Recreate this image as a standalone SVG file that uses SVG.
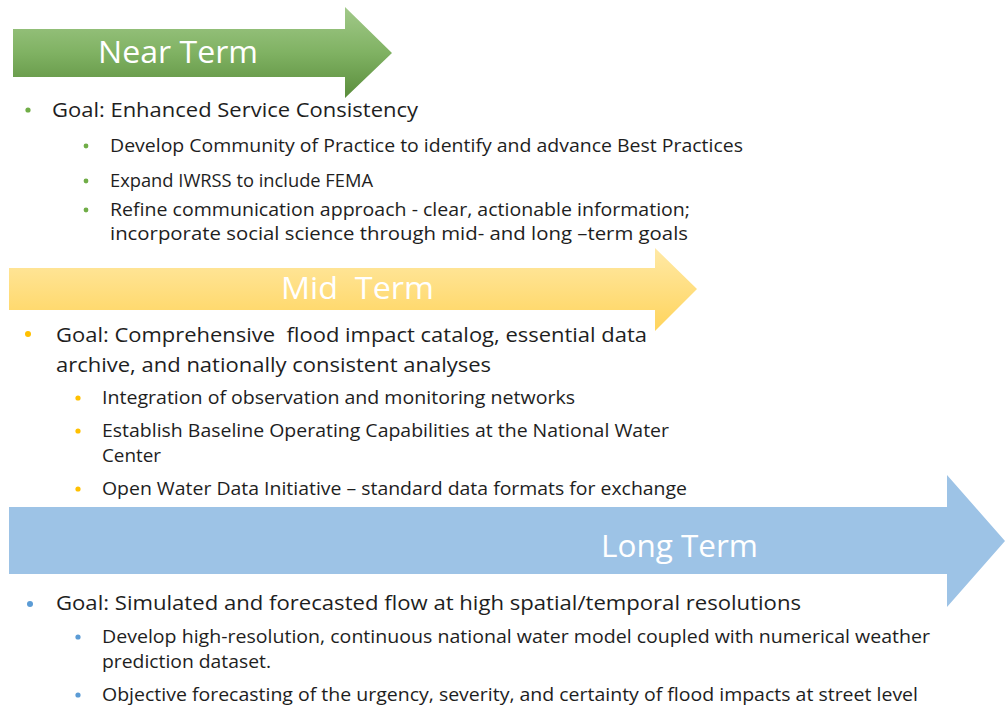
<svg xmlns="http://www.w3.org/2000/svg" width="1005" height="708" viewBox="0 0 1005 708">
<defs>
<linearGradient id="gGreen" x1="0" y1="0" x2="0" y2="1">
<stop offset="0" stop-color="#a2c98a"/>
<stop offset="0.5" stop-color="#80b263"/>
<stop offset="1" stop-color="#5a8d3c"/>
</linearGradient>
<linearGradient id="gYellow" x1="0" y1="0" x2="0" y2="1">
<stop offset="0" stop-color="#ffe9a6"/>
<stop offset="1" stop-color="#ffd45c"/>
</linearGradient>
<style>
text{font-family:"Open Sans","Liberation Sans",sans-serif;fill:#1e1e1e}
.title{fill:#ffffff;font-size:31px}
.goal{font-size:20px}
.sub{font-size:18px}
.bg{fill:#70ad47}
.by{fill:#ffc000}
.bb{fill:#5b9bd5}
</style>
</defs>
<rect width="1005" height="708" fill="#ffffff"/>

<g id="near-term">
<polygon points="13,29 345,29 345,7 392,53 345,98 345,77 13,77" fill="url(#gGreen)"/>
<text class="title" x="98" y="63" textLength="160" lengthAdjust="spacingAndGlyphs">Near Term</text>
<circle class="bg" cx="28" cy="110" r="2.6"/>
<text class="goal" x="52" y="117" textLength="366" lengthAdjust="spacingAndGlyphs">Goal: Enhanced Service Consistency</text>
<circle class="bg" cx="86" cy="146" r="2.4"/>
<text class="sub" x="110" y="152" textLength="633" lengthAdjust="spacingAndGlyphs">Develop Community of Practice to identify and advance Best Practices</text>
<circle class="bg" cx="86" cy="181" r="2.4"/>
<text class="sub" x="110" y="187" textLength="263" lengthAdjust="spacingAndGlyphs">Expand IWRSS to include FEMA</text>
<circle class="bg" cx="86" cy="210" r="2.4"/>
<text class="sub" x="110" y="216" textLength="580" lengthAdjust="spacingAndGlyphs">Refine communication approach - clear, actionable information;</text>
<text class="sub" x="110" y="240" textLength="578" lengthAdjust="spacingAndGlyphs">incorporate social science through mid- and long –term goals</text>
</g>

<g id="mid-term">
<polygon points="9,268 655,268 655,248 697,289 655,331 655,310 9,310" fill="url(#gYellow)"/>
<text class="title" x="281" y="299" textLength="153" lengthAdjust="spacingAndGlyphs" xml:space="preserve">Mid  Term</text>
<circle class="by" cx="28" cy="334" r="3"/>
<text class="goal" x="56" y="342" textLength="591" lengthAdjust="spacingAndGlyphs" xml:space="preserve">Goal: Comprehensive  flood impact catalog, essential data</text>
<text class="goal" x="56" y="372" textLength="435" lengthAdjust="spacingAndGlyphs">archive, and nationally consistent analyses</text>
<circle class="by" cx="78" cy="398" r="2.6"/>
<text class="sub" x="102" y="404" textLength="473" lengthAdjust="spacingAndGlyphs">Integration of observation and monitoring networks</text>
<circle class="by" cx="78" cy="431" r="2.6"/>
<text class="sub" x="102" y="437" textLength="567" lengthAdjust="spacingAndGlyphs">Establish Baseline Operating Capabilities at the National Water</text>
<text class="sub" x="102" y="462" textLength="59" lengthAdjust="spacingAndGlyphs">Center</text>
<circle class="by" cx="78" cy="489" r="2.6"/>
<text class="sub" x="102" y="495" textLength="585" lengthAdjust="spacingAndGlyphs">Open Water Data Initiative – standard data formats for exchange</text>
</g>

<g id="long-term">
<polygon points="9,507 947,507 947,475 1005,541 947,607 947,574 9,574" fill="#9dc3e6"/>
<text class="title" x="601" y="557" textLength="157" lengthAdjust="spacingAndGlyphs">Long Term</text>
<circle class="bb" cx="30" cy="604" r="3"/>
<text class="goal" x="56" y="610" textLength="745" lengthAdjust="spacingAndGlyphs">Goal: Simulated and forecasted flow at high spatial/temporal resolutions</text>
<circle class="bb" cx="78" cy="637" r="2.6"/>
<text class="sub" x="102" y="643" textLength="828" lengthAdjust="spacingAndGlyphs">Develop high-resolution, continuous national water model coupled with numerical weather</text>
<text class="sub" x="102" y="668" textLength="169" lengthAdjust="spacingAndGlyphs">prediction dataset.</text>
<circle class="bb" cx="78" cy="695" r="2.6"/>
<text class="sub" x="102" y="701" textLength="816" lengthAdjust="spacingAndGlyphs">Objective forecasting of the urgency, severity, and certainty of flood impacts at street level</text>
</g>
</svg>
